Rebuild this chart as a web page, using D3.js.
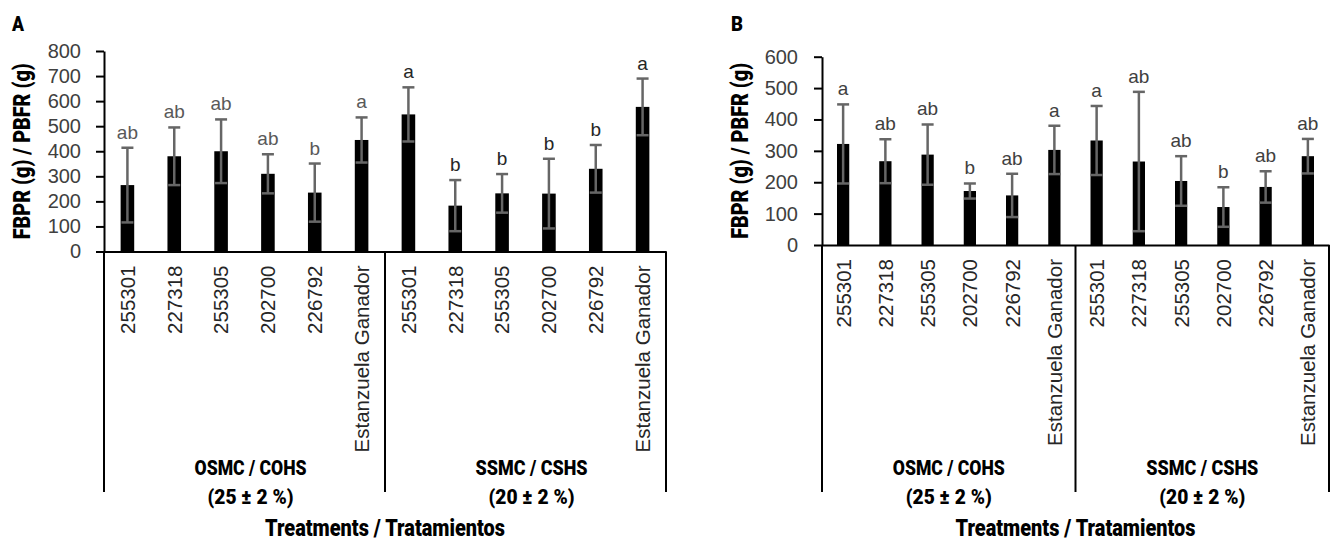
<!DOCTYPE html>
<html>
<head>
<meta charset="utf-8">
<script src="https://cdn.jsdelivr.net/npm/d3@7"></script>
<style>
  body { margin: 0; background: #fff; }
  svg { display: block; }
  .cond { font-family: Roboto, "Liberation Sans", sans-serif; font-weight: 900; }
  .tick text { font-family: "Liberation Sans", Arial, sans-serif; }
</style>
</head>
<body>
<div id="chart"></div>
<script>
// categories and groups
var categories = ["255301", "227318", "255305", "202700", "226792", "Estanzuela Ganador"];
var groups = ["OSMC / COHS", "SSMC / CSHS"];
var groupSub = ["(25 ± 2 %)", "(20 ± 2 %)"];

// panel A values
var meansA = [265, 380, 400, 310, 235, 445, 547, 183, 232, 231, 330, 577];
var errA = [149, 115, 127, 78, 116, 90, 108, 102, 77, 139, 95, 113];
var lettersA = ["ab", "ab", "ab", "ab", "b", "a", "a", "b", "b", "b", "b", "a"];
var ticksA = [0, 100, 200, 300, 400, 500, 600, 700, 800];

// panel B values
var meansB = [322, 267, 288, 172, 158, 303, 333, 266, 204, 121, 185, 283];
var errB = [126, 70, 96, 24, 69, 77, 110, 222, 79, 63, 50, 55];
var lettersB = ["a", "ab", "ab", "b", "ab", "a", "a", "ab", "ab", "b", "ab", "ab"];
var ticksB = [0, 100, 200, 300, 400, 500, 600];

var svgWidth = 1332, svgHeight = 544;

var svg = d3.select("#chart")
    .append("svg")
    .attr("width", svgWidth)
    .attr("height", svgHeight);

// keys for the 12 bars
var keys = [];
groups.forEach(function(g, gi) {
    categories.forEach(function(c) { keys.push(gi + "|" + c); });
});

var panels = [
    { tag: "A", means: meansA, errs: errA, letters: lettersA, ticks: ticksA, yMax: 800,
      left: 104, right: 666, top: 51, bottom: 251.5, titleX: 22, tagX: 18, pad: 15, letterCol: "#595959", grpShift: 6 },
    { tag: "B", means: meansB, errs: errB, letters: lettersB, ticks: ticksB, yMax: 600,
      left: 822, right: 1329, top: 56.7, bottom: 245, titleX: 740, tagX: 737, pad: 16, letterCol: "#404040", grpShift: 0 }
];

// condensed bold text, squeezed to the width it has in the picture
function condText(sel, str, size, width) {
    return sel.append("text").attr("class", "cond")
        .attr("text-anchor", "middle")
        .attr("font-size", size)
        .attr("textLength", width)
        .attr("lengthAdjust", "spacingAndGlyphs")
        .text(str);
}

panels.forEach(function(p) {
    var g = svg.append("g");

    var x = d3.scaleBand()
        .domain(keys)
        .range([p.left, p.right])
        .paddingInner(0.71)
        .paddingOuter(0.355);

    var y = d3.scaleLinear()
        .domain([0, p.yMax])
        .range([p.bottom, p.top]);

    var data = keys.map(function(k, i) {
        return { key: k, cat: k.split("|")[1], mean: p.means[i], err: p.errs[i], letter: p.letters[i], grp: i < 6 ? 0 : 1 };
    });

    // bars
    g.selectAll("rect.bar")
        .data(data)
        .enter()
        .append("rect")
        .attr("class", "bar")
        .attr("x", function(d) { return x(d.key); })
        .attr("width", x.bandwidth())
        .attr("y", function(d) { return y(d.mean); })
        .attr("height", function(d) { return y(0) - y(d.mean); })
        .attr("fill", "#000");

    // error bars
    var eb = g.selectAll("g.err")
        .data(data)
        .enter()
        .append("g")
        .attr("class", "err")
        .attr("stroke", "#666")
        .attr("stroke-width", 2.5);
    var cx = function(d) { return x(d.key) + x.bandwidth() / 2; };
    eb.append("line")
        .attr("x1", cx).attr("x2", cx)
        .attr("y1", function(d) { return y(d.mean + d.err); })
        .attr("y2", function(d) { return y(Math.max(0, d.mean - d.err)); });
    eb.append("line")
        .attr("x1", function(d) { return cx(d) - 6; })
        .attr("x2", function(d) { return cx(d) + 6; })
        .attr("y1", function(d) { return y(d.mean + d.err); })
        .attr("y2", function(d) { return y(d.mean + d.err); });
    eb.append("line")
        .attr("x1", function(d) { return cx(d) - 6; })
        .attr("x2", function(d) { return cx(d) + 6; })
        .attr("y1", function(d) { return y(Math.max(0, d.mean - d.err)); })
        .attr("y2", function(d) { return y(Math.max(0, d.mean - d.err)); });

    // significance letters
    g.selectAll("text.letter")
        .data(data)
        .enter()
        .append("text")
        .attr("class", "letter")
        .attr("x", cx)
        .attr("y", function(d) { return y(d.mean + d.err) - 9; })
        .attr("text-anchor", "middle")
        .attr("font-family", "'Liberation Sans', Arial, sans-serif")
        .attr("font-size", 19)
        .attr("fill", function(d) { return (p.tag === "A" && d.grp === 1) ? "#262626" : p.letterCol; })
        .text(function(d) { return d.letter; });

    // y axis
    var yAxis = d3.axisLeft(y)
        .tickValues(p.ticks)
        .tickSize(8)
        .tickPadding(p.pad)
        .tickSizeOuter(0);
    var ya = g.append("g")
        .attr("transform", "translate(" + p.left + ",0)")
        .call(yAxis);
    ya.select(".domain").attr("stroke", "#000").attr("stroke-width", 2);
    ya.selectAll(".tick line").attr("stroke", "#000").attr("stroke-width", 2);
    ya.selectAll(".tick text").attr("font-size", 20).attr("fill", "#404040");

    // x axis
    var xAxis = d3.axisBottom(x)
        .tickSize(0)
        .tickSizeOuter(0)
        .tickFormat(function(k) { return k.split("|")[1]; });
    var xa = g.append("g")
        .attr("transform", "translate(0," + p.bottom + ")")
        .call(xAxis);
    xa.select(".domain").attr("stroke", "#000").attr("stroke-width", 2);
    xa.selectAll(".tick text")
        .attr("font-size", 20.5)
        .attr("fill", "#262626")
        .attr("transform", "rotate(-90)")
        .attr("text-anchor", "end")
        .attr("x", -14)
        .attr("y", 0)
        .attr("dy", "0.36em");

    // group box lines
    var groupEdges = [0, 6, 12].map(function(i) { return p.left + x.step() * i; });
    g.selectAll("line.grp")
        .data(groupEdges)
        .enter()
        .append("line")
        .attr("class", "grp")
        .attr("x1", function(d) { return d; })
        .attr("x2", function(d) { return d; })
        .attr("y1", p.bottom)
        .attr("y2", 492)
        .attr("stroke", "#000")
        .attr("stroke-width", 2);

    // group labels
    groups.forEach(function(name, gi) {
        var mid = (groupEdges[gi] + groupEdges[gi + 1]) / 2 + p.grpShift;
        condText(g, name, 20, 112).attr("x", mid).attr("y", 475);
        condText(g, groupSub[gi], 20, 86).attr("x", mid).attr("y", 504);
    });

    // axis titles
    condText(g, "Treatments / Tratamientos", 24, 240)
        .attr("x", (p.left + p.right) / 2)
        .attr("y", 536);

    condText(g, "FBPR (g) / PBFR (g)", 24, 176)
        .attr("transform", "translate(" + (p.titleX + 8) + "," + ((p.top + p.bottom) / 2) + ") rotate(-90)");

    // panel letter
    condText(g, p.tag, 21, 12)
        .attr("x", p.tagX)
        .attr("y", 31);
});
</script>
</body>
</html>
